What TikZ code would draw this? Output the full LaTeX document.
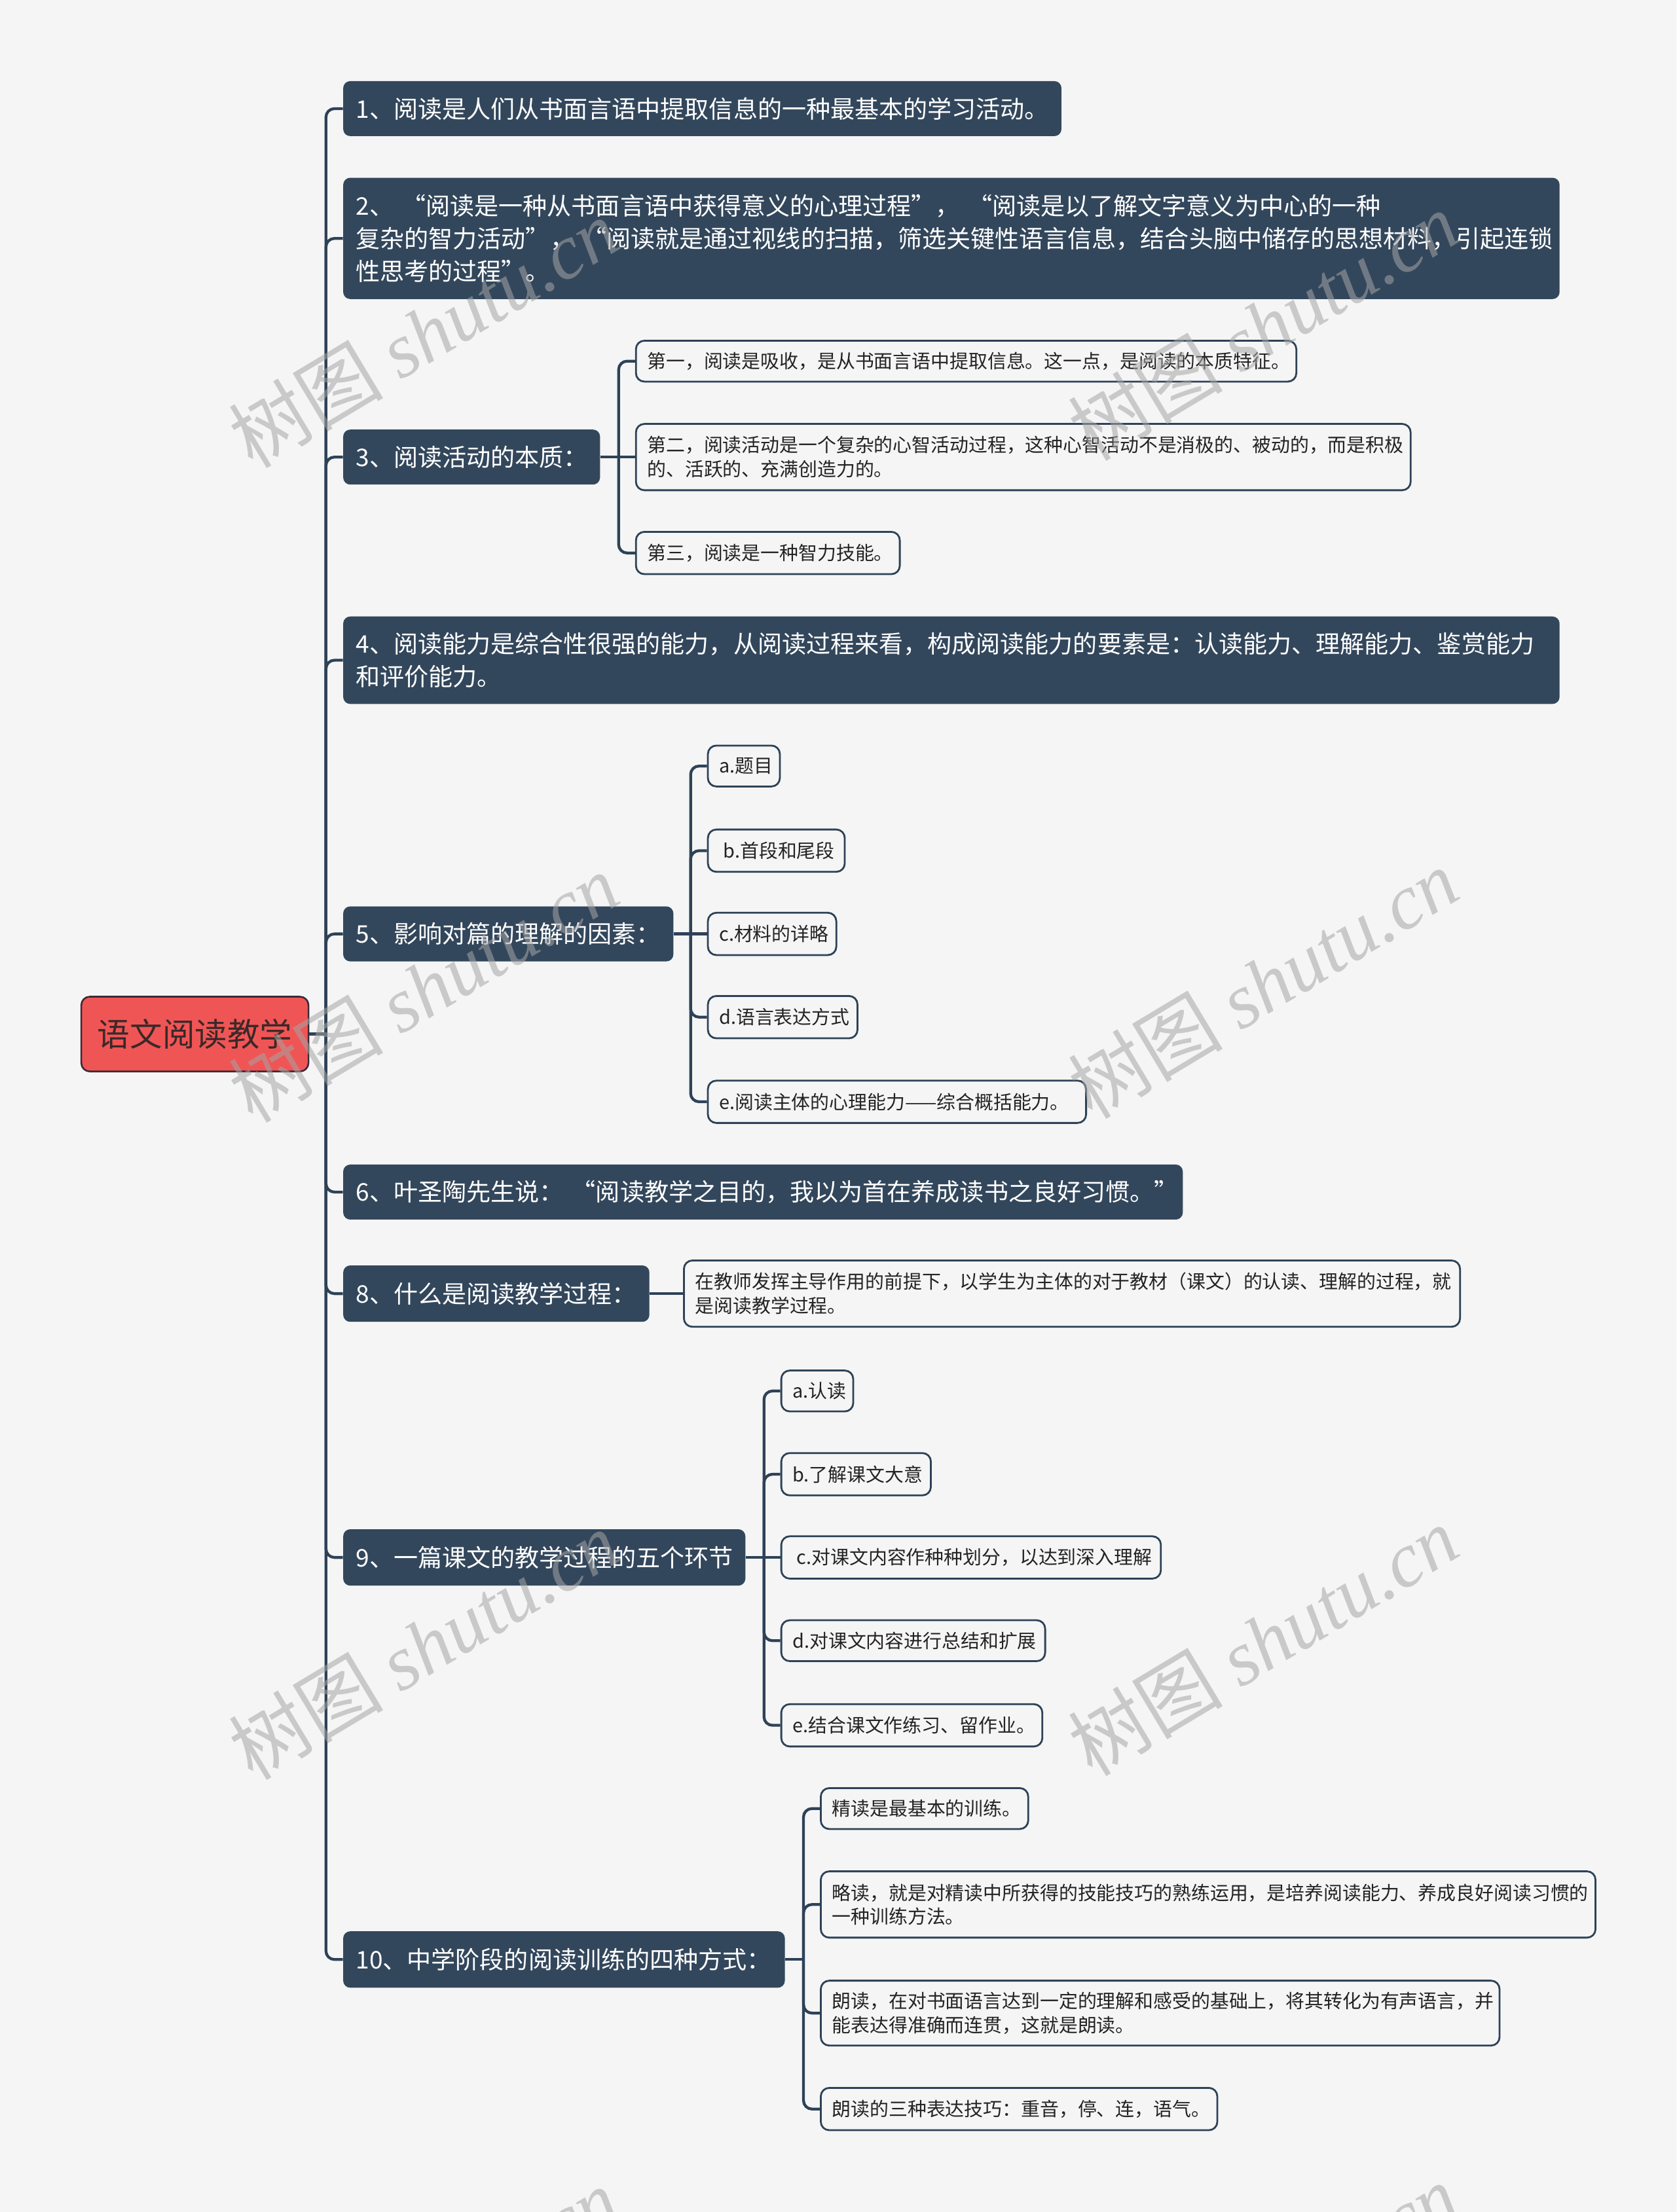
\documentclass[tikz,border=0pt]{standalone}
\usepackage{fontspec}
\setmainfont{Noto Sans CJK SC}
\newfontfamily\wmlat{Liberation Serif}
\usetikzlibrary{calc}
\definecolor{bgc}{HTML}{F5F5F5}
\definecolor{darkc}{HTML}{33475C}
\definecolor{linec}{HTML}{2E4257}
\definecolor{rootc}{HTML}{F05555}
\definecolor{rootbd}{HTML}{3A2A36}
\definecolor{roottx}{HTML}{3B2828}
\definecolor{leaftx}{HTML}{232323}
\definecolor{wmc}{HTML}{A5A5A5}
\begin{document}
\begin{tikzpicture}[x=1pt,y=-1pt,
  rootbox/.style={draw=rootbd, line width=1.2pt, fill=rootc, rounded corners=6pt, text=roottx,
    font=\fontsize{23}{28}\selectfont, minimum width=161pt, minimum height=53pt, anchor=west, inner sep=0pt},
  topic/.style={fill=darkc, rounded corners=5pt, text=white, font=\fontsize{17.2}{23}\selectfont,
    anchor=west, inner xsep=9pt, inner ysep=0pt, align=left},
  leaf/.style={draw=linec, line width=1.3pt, fill=bgc, rounded corners=6pt, text=leaftx,
    font=\fontsize{13.4}{17}\selectfont, anchor=west, inner xsep=8pt, inner ysep=0pt, align=left},
  conn/.style={draw=linec, line width=2pt, rounded corners=6pt},
  wm/.style={text=wmc, opacity=0.55, rotate=31, font=\fontsize{55}{55}\selectfont, inner sep=0pt}
]
\useasboundingbox (0,0) rectangle (1188,1568);
\fill[bgc] (0,0) rectangle (1188,1568);

% root
\node[rootbox] (root) at (57,733) {语文阅读教学};

% level 1
\node[topic, text width=491pt, minimum height=39pt] (t1) at (243,77) {1、阅读是人们从书面言语中提取信息的一种最基本的学习活动。};
\node[topic, text width=844pt, minimum height=86pt] (t2) at (243,169) {2、~“阅读是一种从书面言语中获得意义的心理过程”，~“阅读是以了解文字意义为中心的一种\\复杂的智力活动”，~“阅读就是通过视线的扫描，筛选关键性语言信息，结合头脑中储存的思想材料，引起连锁\\性思考的过程”。};
\node[topic, text width=164pt, minimum height=39pt] (t3) at (243,324) {3、阅读活动的本质：};
\node[topic, text width=844pt, minimum height=62pt] (t4) at (243,468) {4、阅读能力是综合性很强的能力，从阅读过程来看，构成阅读能力的要素是：认读能力、理解能力、鉴赏能力\\和评价能力。};
\node[topic, text width=216pt, minimum height=39pt] (t5) at (243,662) {5、影响对篇的理解的因素：};
\node[topic, text width=577pt, minimum height=39pt] (t6) at (243,845) {6、叶圣陶先生说：~“阅读教学之目的，我以为首在养成读书之良好习惯。”};
\node[topic, text width=199pt, minimum height=40pt] (t8) at (243,917) {8、什么是阅读教学过程：};
\node[topic, text width=267pt, minimum height=40pt] (t9) at (243,1104) {9、一篇课文的教学过程的五个环节};
\node[topic, text width=295pt, minimum height=40pt] (t10) at (243,1389) {10、中学阶段的阅读训练的四种方式：};

% level 2 under 3
\node[leaf, text width=452pt, minimum height=29pt] (c31) at (450,256) {第一，阅读是吸收，是从书面言语中提取信息。这一点，是阅读的本质特征。};
\node[leaf, text width=533pt, minimum height=47pt] (c32) at (450,324) {第二，阅读活动是一个复杂的心智活动过程，这种心智活动不是消极的、被动的，而是积极\\的、活跃的、充满创造力的。};
\node[leaf, text width=171pt, minimum height=30pt] (c33) at (450,392) {第三，阅读是一种智力技能。};

% under 5
\node[leaf, text width=35pt, minimum height=29pt] (c51) at (501,543) {a.题目};
\node[leaf, text width=81pt, minimum height=30pt] (c52) at (501,603) {\hspace*{3pt}b.首段和尾段};
\node[leaf, text width=75pt, minimum height=30pt] (c53) at (501,662) {c.材料的详略};
\node[leaf, text width=90pt, minimum height=30pt] (c54) at (501,721) {d.语言表达方式};
\node[leaf, text width=252pt, minimum height=30pt] (c55) at (501,781) {e.阅读主体的心理能力——综合概括能力。};

% under 8
\node[leaf, text width=534pt, minimum height=47pt] (c81) at (484,917) {在教师发挥主导作用的前提下，以学生为主体的对于教材（课文）的认读、理解的过程，就\\是阅读教学过程。};

% under 9
\node[leaf, text width=35pt, minimum height=29pt] (c91) at (553,986) {a.认读};
\node[leaf, text width=90pt, minimum height=30pt] (c92) at (553,1045) {b.了解课文大意};
\node[leaf, text width=253pt, minimum height=30pt] (c93) at (553,1104) {\hspace*{3pt}c.对课文内容作种种划分，以达到深入理解};
\node[leaf, text width=171pt, minimum height=29pt] (c94) at (553,1163) {d.对课文内容进行总结和扩展};
\node[leaf, text width=169pt, minimum height=30pt] (c95) at (553,1223) {e.结合课文作练习、留作业。};

% under 10
\node[leaf, text width=131pt, minimum height=29pt] (c101) at (581,1282) {精读是最基本的训练。};
\node[leaf, text width=533pt, minimum height=47pt] (c102) at (581,1350) {略读，就是对精读中所获得的技能技巧的熟练运用，是培养阅读能力、养成良好阅读习惯的\\一种训练方法。};
\node[leaf, text width=465pt, minimum height=46pt] (c103) at (581,1427) {朗读，在对书面语言达到一定的理解和感受的基础上，将其转化为有声语言，并\\能表达得准确而连贯，这就是朗读。};
\node[leaf, text width=265pt, minimum height=30pt] (c104) at (581,1495) {朗读的三种表达技巧：重音，停、连，语气。};

% connectors: root -> topics
\coordinate (rj) at (231,733);
\draw[conn] (root.east) -- (rj);
\foreach \t in {t1,t2,t3,t4,t5,t6,t8,t9,t10} { \draw[conn] (rj) |- (\t.west); }

% 3
\coordinate (j3) at ($(t3.east)+(13,0)$);
\draw[conn] (t3.east) -- (c32.west);
\foreach \c in {c31,c33} { \draw[conn] (j3) |- (\c.west); }
% 5
\coordinate (j5) at ($(t5.east)+(12,0)$);
\draw[conn] (t5.east) -- (c53.west);
\foreach \c in {c51,c52,c54,c55} { \draw[conn] (j5) |- (\c.west); }
% 8
\draw[conn] (t8.east) -- (c81.west);
% 9
\coordinate (j9) at ($(t9.east)+(13,0)$);
\draw[conn] (t9.east) -- (c93.west);
\foreach \c in {c91,c92,c94,c95} { \draw[conn] (j9) |- (\c.west); }
% 10
\coordinate (j10) at ($(t10.east)+(13,0)$);
\draw[conn] (t10.east) -- (j10);
\foreach \c in {c101,c102,c103,c104} { \draw[conn] (j10) |- (\c.west); }

% watermarks
\foreach \wx/\wy [count=\i] in {300/236, 895/231, 300/700, 895/697, 300/1166, 895/1163, 300/1632, 895/1629} {
  \node[wm] (wm\i) at (\wx,\wy) {树图~{\wmlat\itshape shutu.cn}};
}
\end{tikzpicture}
\end{document}
